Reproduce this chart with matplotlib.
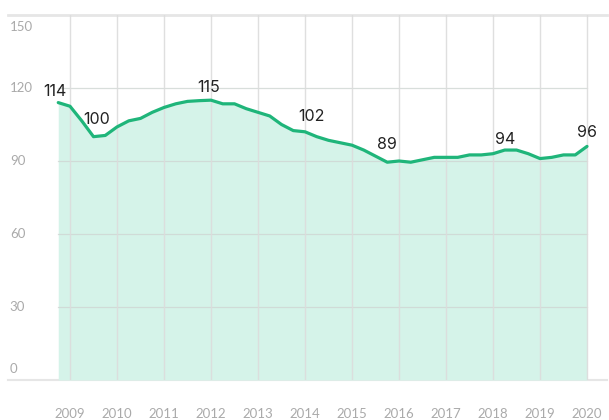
import matplotlib
matplotlib.use("Agg")
import matplotlib.pyplot as plt
import matplotlib.transforms as mtransforms
import numpy as np

# ---- data ----
quarters = [2008.75 + 0.25 * i for i in range(46)]
values = [114, 112.5, 106.5, 100, 100.5, 104, 106.5, 107.5, 110, 112,
          113.5, 114.5, 114.8, 115, 113.5, 113.5, 111.5, 110, 108.5, 105,
          102.5, 102, 100, 98.5, 97.5, 96.5, 94.5, 92, 89.5, 90,
          89.5, 90.5, 91.5, 91.5, 91.5, 92.5, 92.5, 93, 94.5, 94.5,
          93, 91, 91.5, 92.5, 92.5, 96]
label_idx = [0, 3, 13, 21, 28, 38, 45]
label_text = ["114", "100", "115", "102", "89", "94", "96"]
year_ticks = list(range(2009, 2021))
year_labels = [str(y) for y in year_ticks]
y_ticks = [0, 30, 60, 90, 120, 150]
y_labels = ["0", "30", "60", "90", "120", "150"]

LINE = "#1fb57a"
FILL = "#d5f3e9"
TICKC = "#aaaaaa"

fig = plt.figure(figsize=(6.09, 4.20), dpi=100)
ax = fig.add_axes([8 / 609, 40 / 420, 599 / 609, 365 / 420])
ax.set_xlim(2009 - 62 / 47, 2009 + 537 / 47)
ax.set_ylim(0, 150)
for s in ax.spines.values():
    s.set_visible(False)

# top & bottom border lines
ax.axhline(150, color="#e6e6e6", lw=2.0, zorder=1, clip_on=False)
ax.axhline(0, color="#e6e6e6", lw=1.5, zorder=1, clip_on=False)

# fill and line
ax.fill_between(quarters, values, 0, color=FILL, lw=0, zorder=2)
ax.plot(quarters, values, color=LINE, lw=2.3, zorder=5, solid_capstyle="round",
        solid_joinstyle="round")

# gridlines
for yv in y_ticks[1:-1]:
    ax.plot([quarters[0], quarters[-1]], [yv, yv], color="#cfd6d3", lw=0.9, alpha=0.8, zorder=3)
for xv in year_ticks:
    ax.axvline(xv, color="#dcdcdc", lw=1.0, alpha=0.9, zorder=3)

# x ticks
ax.set_xticks(year_ticks)
ax.set_xticklabels(year_labels, fontsize=9.5, color=TICKC, fontfamily="Lato")
ax.tick_params(axis="x", length=0, pad=20)
ax.set_yticks([])

# y labels (inside the frame)
for yv, lab in zip(y_ticks, y_labels):
    dy = 0
    if yv == 150:
        dy = -12
    elif yv == 0:
        dy = 11
    tr = mtransforms.offset_copy(ax.get_yaxis_transform(), fig=fig, x=0, y=dy * 0.72, units="points")
    ax.text(0.003, yv, lab, transform=tr, ha="left", va="center",
            fontsize=9.5, color=TICKC, fontfamily="Lato")

# data labels
offsets = [11, 17, 13, 15, 18, 11, 14]
dxs = [-3, 3, -2, 6, 0, 0, 0]
for i, t, off, dx in zip(label_idx, label_text, offsets, dxs):
    ax.annotate(t, (quarters[i], values[i]), xytext=(dx * 0.72, off * 0.72), textcoords="offset points",
                ha="center", va="center", fontsize=11.5, color="#222222",
                fontfamily="Inter", zorder=6)

fig.savefig("out.png", dpi=100)
